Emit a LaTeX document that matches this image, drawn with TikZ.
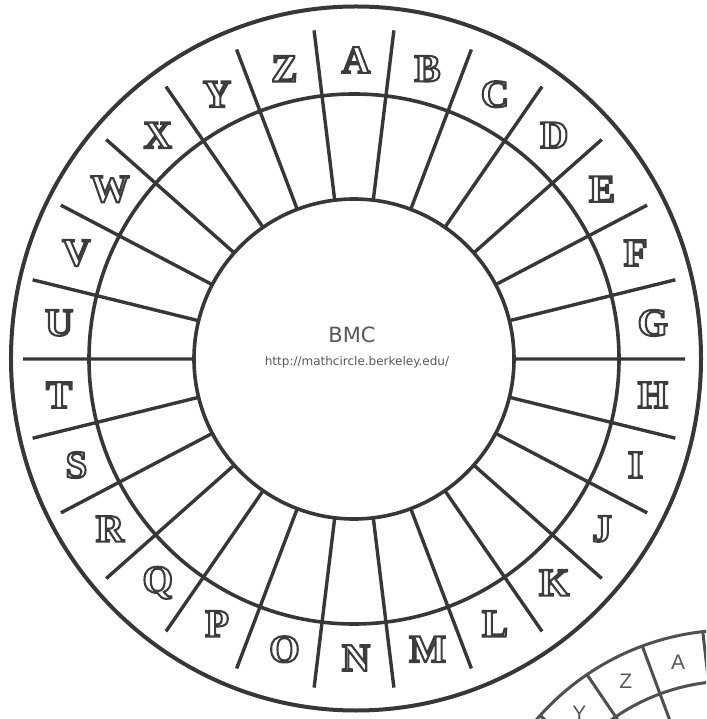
\documentclass[tikz,border=0pt]{standalone}
\usepackage{fontspec}
\setmainfont{Liberation Serif}
\newfontfamily\bmcfont{DejaVu Sans}
\newfontfamily\lsans{Liberation Sans}
\definecolor{ink}{RGB}{55,55,55}
\definecolor{letterink}{RGB}{60,60,60}
\definecolor{greytext}{RGB}{88,88,88}
\definecolor{inktwo}{RGB}{80,80,80}
\newcommand\outlined[1]{\special{pdf:literal direct 1 Tr 2.1 w}#1\special{pdf:literal direct 0 Tr}}
\begin{document}
\begin{tikzpicture}[x=1pt,y=1pt,
  wheel/.style={draw=ink,line width=3.6pt},
  rim/.style={draw=ink,line width=4pt},
  spoke/.style={draw=ink,line width=3.4pt},
  bigletter/.style={text=letterink,font=\fontsize{39}{39}\selectfont\bfseries,inner sep=0pt},
  smallletter/.style={text=greytext,font=\lsans\fontsize{21}{21}\selectfont,inner sep=0pt},
  wheeltwo/.style={draw=inktwo,line width=3pt}]
\useasboundingbox (-354,-360) rectangle (352,359);
\clip (-354,-360) rectangle (352,359);
\coordinate (M) at (0,0);
\coordinate (O) at (2,0.5);
\coordinate (W) at (378,-529);
% second wheel (bottom right, partly visible)
\begin{scope}[shift={(W)}]
  \draw[wheeltwo] (0,0) circle (258);
  \draw[wheeltwo] (0,0) circle (207);
  \foreach \k in {0,...,25}
    \draw[wheeltwo] (96.5-\k*13.846:170) -- (96.5-\k*13.846:258);
  \node[smallletter] (SA) at (103.4:232) {A};
  \node[smallletter] (SZ) at (117.25:232) {Z};
  \node[smallletter] (SY) at (131.1:232) {Y};
\end{scope}
% main wheel
\draw[rim] (O) ellipse [x radius=345, y radius=352];
\draw[wheel] (M) circle (265);
\draw[wheel] (M) circle (160);
\foreach \k in {0,...,25}
  \draw[spoke] (83.077-\k*13.846:160) -- (83.077-\k*13.846:331);
\begin{scope}[shift={(2,0)}]
  \foreach \L [count=\i from 0] in {A,B,C,D,E,F,G,H,I,J,K,L,M,N,O,P,Q,R,S,T,U,V,W,X,Y,Z}
    \node[bigletter] (L\i) at (90-\i*13.846:299) {\outlined{\L}};
\end{scope}
\node[text=greytext,font=\bmcfont\fontsize{21}{21}\selectfont,inner sep=0pt] (bmc) at (-2,24) {BMC};
\node[text=greytext,font=\bmcfont\fontsize{12}{12}\selectfont,inner sep=0pt] (url) at (3,-3) {http://mathcircle.berkeley.edu/};
\end{tikzpicture}
\end{document}
